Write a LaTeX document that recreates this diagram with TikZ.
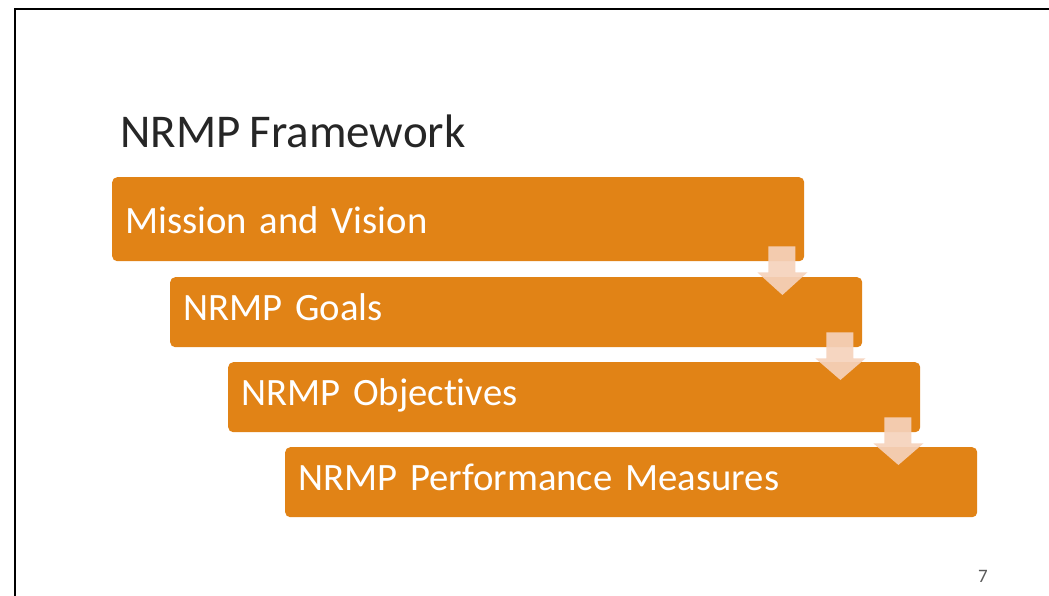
\documentclass[tikz,border=0pt]{standalone}
\usepackage{fontspec}
\setmainfont{Carlito}[Ligatures=NoCommon,WordSpace=0.85]
\usetikzlibrary{positioning,calc}
\definecolor{stagecol}{RGB}{225,131,22}
\definecolor{arrowcol}{RGB}{245,210,188}
\definecolor{titlecol}{RGB}{38,38,38}
\definecolor{pagecol}{RGB}{89,89,89}

\begin{document}
\begin{tikzpicture}[x=1pt,y=-1pt,
  stage/.style={rectangle,rounded corners=5pt,fill=stagecol,text=white,
                anchor=north west,minimum width=692pt,text width=666pt,
                inner xsep=13pt,inner ysep=0pt,align=left,
                font=\fontsize{38.7}{44}\selectfont,
                text height=24pt,text depth=8pt,minimum height=70pt},
  stagearrow/.style={fill=arrowcol,opacity=0.92},
]
\useasboundingbox (0,0) rectangle (1049,596);
% slide frame
\draw[line width=2pt] (14.5,596) -- (14.5,9.5) -- (1049,9.5);
\node[font=\fontsize{47}{56}\selectfont,text=titlecol,anchor=base west,
      inner sep=0pt] (title) at (120,148) {NRMP Framework};
\node[stage,minimum height=84pt,text height=28pt,text depth=-2pt]
  (mission) at (112,177) {Mission and Vision};
\node[stage] (goals)      at (170,277) {NRMP Goals};
\node[stage] (objectives) at (228,362) {NRMP Objectives};
\node[stage] (measures)   at (285,447) {NRMP Performance Measures};
\foreach \a/\b in {mission/goals,goals/objectives,objectives/measures}
  \fill[stagearrow] ($(\a.south east)+(-36,-15)$) -- ($(\a.south east)+(-9,-15)$)
    -- ($(\a.south east)+(-9,11)$) -- ($(\a.south east)+(3,11)$)
    -- ($(\a.south east |- \b.north)+(-22,18)$)
    -- ($(\a.south east)+(-47,11)$) -- ($(\a.south east)+(-36,11)$) -- cycle;
\node[font=\fontsize{19}{22}\selectfont,text=pagecol,anchor=base,
      inner sep=0pt] (page) at (983,582) {7};
\end{tikzpicture}
\end{document}
